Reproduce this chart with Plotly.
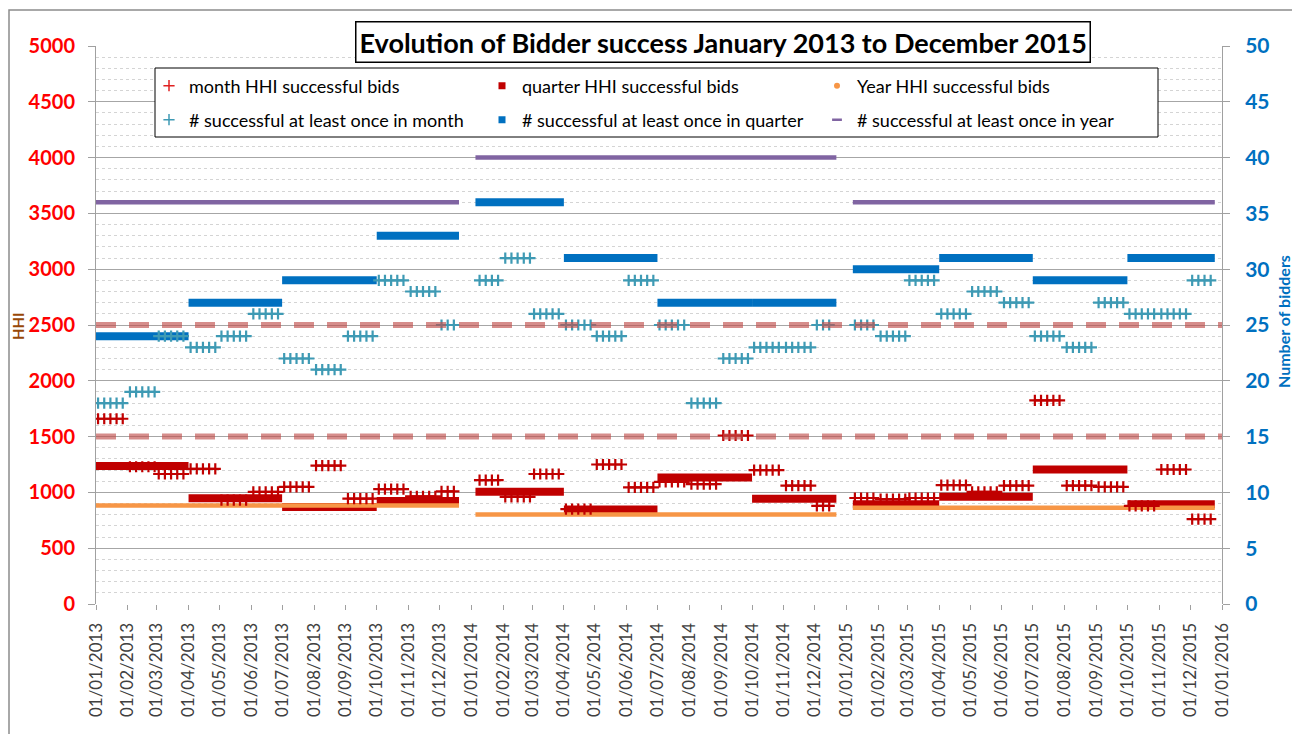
import pandas as pd
import plotly.graph_objects as go

# ---------------- data ----------------
month_starts = pd.date_range("2013-01-01", periods=36, freq="MS")
month_hhi = [1660, 1230, 1165, 1210, 930, 1005, 1050, 1240, 945, 1030, 965, 1010,
             1110, 960, 1165, 850, 1250, 1045, 1095, 1075, 1510, 1200, 1060, 880,
             950, 940, 950, 1065, 1005, 1060, 1825, 1060, 1050, 880, 1205, 760]
month_count = [18, 19, 24, 23, 24, 26, 22, 21, 24, 29, 28, 25,
               29, 31, 26, 25, 24, 29, 25, 18, 22, 23, 23, 25,
               25, 24, 29, 26, 28, 27, 24, 23, 27, 26, 26, 29]
quarter_starts = pd.date_range("2013-01-01", periods=12, freq="QS")
quarter_hhi = [1237, 948, 870, 924, 1005, 847, 1133, 942, 894, 960, 1205, 894]
quarter_count = [24, 27, 29, 33, 36, 31, 27, 27, 30, 31, 29, 31]
years = [2013, 2014, 2015]
year_hhi = [883, 802, 862]
year_count = [36, 40, 36]
# first / last observation date of each year (weekly observations)
year_first_obs = ["2013-01-01", "2014-01-05", "2015-01-07"]
year_last_obs = ["2013-12-20", "2014-12-22", "2015-12-25"]
obs_days = [3, 9, 15, 21, 27]          # weekly observation days within a month
hhi_thresholds = [1500, 2500]
xtick_dates = list(pd.date_range("2013-01-01", "2016-01-01", freq="MS"))

# ---------------- styles ----------------
C_MHHI = "#C00000"
C_QHHI = "#C00000"
C_YHHI = "#F79646"
C_MCNT = "#3E9AB4"
C_QCNT = "#0070C0"
C_YCNT = "#8064A2"
FONT = "Lato"

# geometry: the page adds an 8px body margin, so the figure is shifted by OFF
OFF = 8
W, H = 1292, 726
L, T = 96 - OFF, 46 - OFF          # plot area left/top in figure pixels
R = W - (1222 - OFF)
B = H - (604 - OFF)
PW, PH = W - L - R, H - T - B


def px_x(page_x):
    return (page_x - OFF - L) / PW


def px_y(page_y):
    return (H - B - (page_y - OFF)) / PH


yfirst = {y: pd.Timestamp(a) for y, a in zip(years, year_first_obs)}
ylast = {y: pd.Timestamp(b) for y, b in zip(years, year_last_obs)}


def month_points(values):
    xs, ys = [], []
    for ms, v in zip(month_starts, values):
        for d in obs_days:
            t = ms + pd.Timedelta(days=d - 1)
            if t < yfirst[ms.year] or t > ylast[ms.year] - pd.Timedelta(days=2):
                continue
            xs.append(t)
            ys.append(v)
    return xs, ys


def quarter_segments(values):
    xs, ys = [], []
    for qs, v in zip(quarter_starts, values):
        qe = qs + pd.offsets.QuarterBegin(startingMonth=1)
        a = max(qs, yfirst[qs.year])
        b = min(qe, ylast[qs.year])
        xs += [a, b, None]
        ys += [v, v, None]
    return xs, ys


def year_segments(values):
    xs, ys = [], []
    for y, v in zip(years, values):
        xs += [yfirst[y], ylast[y], None]
        ys += [v, v, None]
    return xs, ys


fig = go.Figure()

qx, qy = quarter_segments(quarter_count)
fig.add_trace(go.Scatter(x=qx, y=qy, yaxis="y2", mode="lines", showlegend=False,
                         line=dict(color=C_QCNT, width=8)))
yx, yy = year_segments(year_count)
fig.add_trace(go.Scatter(x=yx, y=yy, yaxis="y2", mode="lines", showlegend=False,
                         line=dict(color=C_YCNT, width=4.5)))
qx, qy = quarter_segments(quarter_hhi)
fig.add_trace(go.Scatter(x=qx, y=qy, mode="lines", showlegend=False,
                         line=dict(color=C_QHHI, width=8)))
yx, yy = year_segments(year_hhi)
fig.add_trace(go.Scatter(x=yx, y=yy, mode="lines", showlegend=False,
                         line=dict(color=C_YHHI, width=4.5)))
mx, my = month_points(month_count)
fig.add_trace(go.Scatter(x=mx, y=my, yaxis="y2", mode="markers", showlegend=False,
                         marker=dict(symbol="cross-thin", size=8, color=C_MCNT,
                                     line=dict(width=2.2, color=C_MCNT))))
mx, my = month_points(month_hhi)
fig.add_trace(go.Scatter(x=mx, y=my, mode="markers", showlegend=False,
                         marker=dict(symbol="cross-thin", size=8, color=C_MHHI,
                                     line=dict(width=2.2, color=C_MHHI))))

# legend entries: one legend per entry so they can be laid out like the original
legend_items = [
    ("month HHI successful bids", dict(symbol="cross-thin", size=8, color="#E02020",
                                       line=dict(width=1.5, color="#E02020"))),
    ("quarter HHI successful bids", dict(symbol="square", size=7, color=C_QHHI)),
    ("Year HHI successful bids", dict(symbol="circle", size=6, color=C_YHHI)),
    ("# successful at least once in month", dict(symbol="cross-thin", size=8, color=C_MCNT,
                                                 line=dict(width=1.5, color=C_MCNT))),
    ("# successful at least once in quarter", dict(symbol="square", size=7, color=C_QCNT)),
    ("# successful at least once in year", dict(symbol="line-ew", size=7, color=C_YCNT,
                                                line=dict(width=2.5, color=C_YCNT))),
]
col_text_px = [189, 522, 857]
row_mid_px = [86, 120]
legend_layouts = {}
for i, (name, mk) in enumerate(legend_items):
    key = "legend" if i == 0 else f"legend{i + 1}"
    fig.add_trace(go.Scatter(x=[None], y=[None], mode="markers", name=name, marker=mk,
                             legend=key))
    legend_layouts[key] = dict(
        x=px_x(col_text_px[i % 3] - 40), y=px_y(row_mid_px[i // 3]),
        xanchor="left", yanchor="middle", bgcolor="rgba(0,0,0,0)", borderwidth=0,
        font=dict(family=FONT, size=18, color="#000000"), itemwidth=30)

# legend frame
fig.add_shape(type="rect", xref="paper", yref="paper", x0=px_x(155), x1=px_x(1158),
              y0=px_y(137), y1=px_y(68), fillcolor="white",
              line=dict(color="#000000", width=1), layer="above")

# threshold dashed lines
for t in hhi_thresholds:
    fig.add_shape(type="line", xref="paper", yref="y", x0=0, x1=1, y0=t, y1=t,
                  line=dict(color="rgba(192,80,77,0.65)", width=6, dash="20px,13px"))

# outer border
fig.add_shape(type="rect", xref="paper", yref="paper", x0=px_x(9), x1=px_x(1293),
              y0=px_y(800), y1=px_y(10), line=dict(color="#8c8c8c", width=1.5),
              layer="below")

# title box
fig.add_annotation(xref="paper", yref="paper", x=px_x(723), y=px_y(42), xanchor="center",
                   yanchor="middle", showarrow=False,
                   text="<b>Evolution of Bidder success January 2013 to December 2015</b>",
                   font=dict(family=FONT, size=27, color="#000000"),
                   bordercolor="#000000", borderwidth=1.5, borderpad=3, bgcolor="white")

# axis titles
fig.add_annotation(xref="paper", yref="paper", x=px_x(18), y=px_y(326), textangle=-90,
                   xanchor="center", yanchor="middle", showarrow=False,
                   text="<b>HHI</b>", font=dict(family=FONT, size=15, color="#984807"))
fig.add_annotation(xref="paper", yref="paper", x=px_x(1283), y=px_y(322), textangle=-90,
                   xanchor="center", yanchor="middle", showarrow=False,
                   text="<b>Number of bidders</b>",
                   font=dict(family=FONT, size=16, color="#0070C0"))

fig.update_layout(
    width=W, height=H,
    margin=dict(l=L, r=R, t=T, b=B, autoexpand=False),
    paper_bgcolor="white", plot_bgcolor="white",
    font=dict(family=FONT, color="#404040"),
    showlegend=True,
    xaxis=dict(type="date", range=["2013-01-01", "2016-01-01"], automargin=False,
               tickvals=xtick_dates, tickformat="%d/%m/%Y", tickangle=-90,
               ticks="outside", ticklen=5, tickcolor="#a0a0a0", ticklabelstandoff=6,
               showgrid=False, showline=False, zeroline=False,
               tickfont=dict(family=FONT, size=17, color="#404040")),
    yaxis=dict(range=[0, 5000], dtick=500, showline=True, linecolor="#a0a0a0",
               automargin=False,
               ticks="outside", ticklen=7, tickcolor="#a0a0a0",
               gridcolor="#a6a6a6", gridwidth=1, zeroline=False,
               minor=dict(dtick=100, showgrid=True, gridcolor="#d4d4d4", griddash="dot"),
               tickfont=dict(family=FONT, size=20, color="#FF0000", weight="bold"),
               ticklabelstandoff=9),
    yaxis2=dict(range=[0, 50], dtick=5, overlaying="y", side="right", automargin=False,
                showline=True, linecolor="#a0a0a0", ticks="outside", ticklen=7,
                tickcolor="#a0a0a0", showgrid=False, zeroline=False,
                tickfont=dict(family=FONT, size=21, color="#0070C0", weight="bold"),
                ticklabelstandoff=11),
    **legend_layouts,
)

fig.write_html("out.html")
